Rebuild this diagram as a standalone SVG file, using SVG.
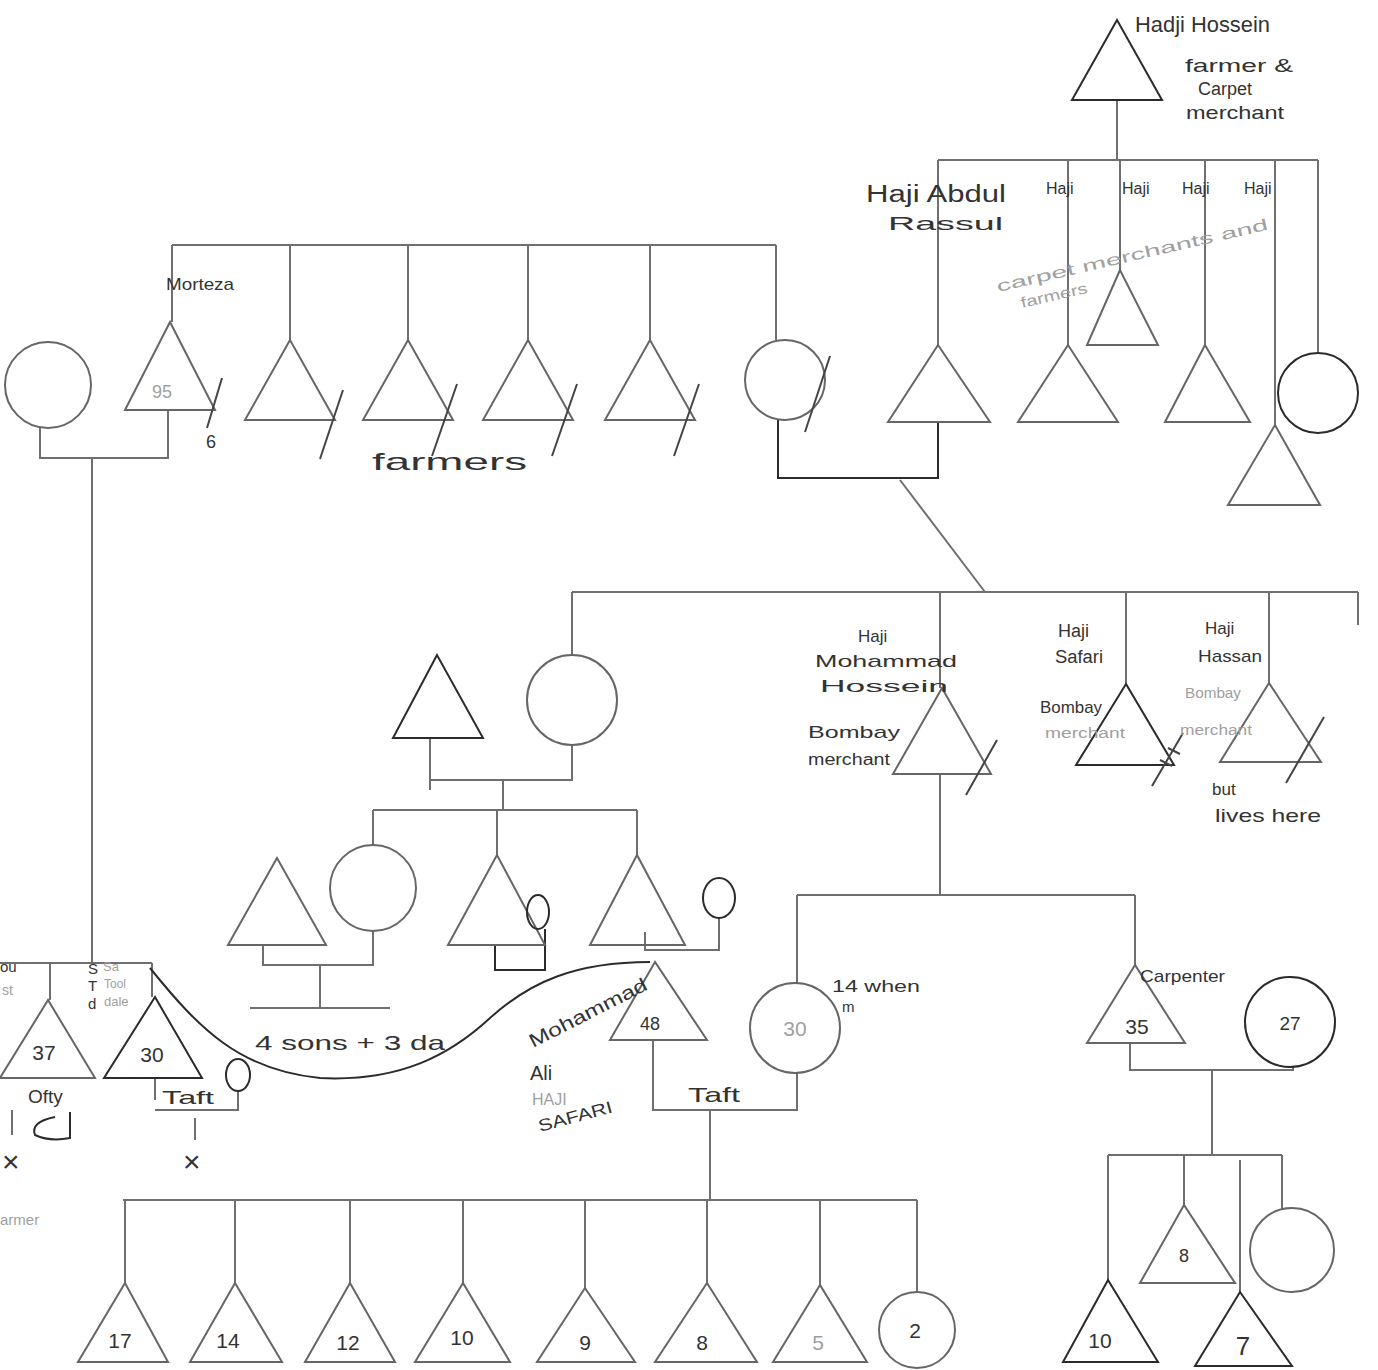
<svg xmlns="http://www.w3.org/2000/svg" width="1378" height="1370" viewBox="0 0 1378 1370" font-size="17">
<style>
.ln{fill:none;stroke:#6f6f6f;stroke-width:2}
.dk{fill:none;stroke:#2b2b2b;stroke-width:2}
.sym{fill:none;stroke:#666;stroke-width:2}
.sd{fill:none;stroke:#2b2b2b;stroke-width:2}
.sl{fill:none;stroke:#444;stroke-width:2}
text{font-family:"Liberation Sans",Arial,sans-serif;fill:#333}
.g{fill:#a0a0a0}
.n{text-anchor:middle}
</style>
<rect width="1378" height="1370" fill="#fff"/>
<g id="connectors">
<path class="ln" d="M1117,100 V160 M938,160 H1318 M938,160 V345 M1068,160 V345 M1120,160 V270 M1205,160 V345 M1275,160 V425 M1318,160 V353"/>
<path class="ln" d="M172,245 H776 M172,245 V322 M290,245 V340 M408,245 V340 M528,245 V340 M650,245 V340 M776,245 V340"/>
<path class="ln" d="M40,428 V458 H168 V410 M92,458 V963"/>
<path class="ln" d="M0,963 H152 M50,963 V1000 M152,963 V997"/>
<path class="dk" d="M778,420 V478 H938 V422"/>
<path class="ln" d="M900,480 L985,592"/>
<path class="ln" d="M572,592 H1358 M572,592 V655 M940,592 V688 M1126,592 V684 M1269,592 V683 M1358,592 V625"/>
<path class="ln" d="M430,738 V790 M430,780 H572 V745 M503,780 V810 M373,810 H637 M373,810 V845 M497,810 V855 M637,810 V855"/>
<path class="ln" d="M263,945 V965 H373 V931 M320,965 V1008 M250,1008 H390"/>
<path class="dk" d="M495,945 V970 H545 V929"/>
<path class="ln" d="M645,932 V950 H719 V918"/>
<path class="ln" d="M940,774 V895 M797,895 H1135 M797,895 V983 M1135,895 V965"/>
<path class="ln" d="M653,1040 V1110 H797 V1073 M710,1110 V1200 M123,1200 H917"/>
<path class="ln" d="M125,1200 V1283 M235,1200 V1283 M350,1200 V1283 M463,1200 V1283 M585,1200 V1288 M707,1200 V1283 M820,1200 V1285 M917,1200 V1292"/>
<path class="ln" d="M1130,1043 V1070 H1293 V1067 M1212,1070 V1155 M1108,1155 H1282 M1108,1155 V1280 M1184,1155 V1205 M1240,1160 V1292 M1282,1155 V1210"/>
<path class="ln" d="M155,1078 V1100 M155,1110 H238 V1091 M195,1118 V1140 M12,1110 V1135"/>
<path class="dk" d="M150,968 C200,1030 240,1070 320,1078 C400,1082 450,1055 490,1018 C530,982 575,962 650,962"/>
</g>
<g id="hadji-hossein"><polygon class="sd" points="1117,20 1072,100 1162,100"/>
<text x="1135" y="32" font-size="22" textLength="135" lengthAdjust="spacingAndGlyphs">Hadji Hossein</text><text x="1185" y="72" font-size="19" textLength="108" lengthAdjust="spacingAndGlyphs">farmer &amp;</text><text x="1198" y="95" font-size="18">Carpet</text><text x="1186" y="119" font-size="19" textLength="98" lengthAdjust="spacingAndGlyphs">merchant</text></g>
<g id="abdul-rassul"><polygon class="sym" points="938,345 888,422 990,422"/><text x="866" y="202" font-size="23" textLength="140" lengthAdjust="spacingAndGlyphs">Haji Abdul</text><text x="888" y="230" font-size="19" textLength="115" lengthAdjust="spacingAndGlyphs">Rassul</text></g>
<g id="haji-2"><polygon class="sym" points="1068,345 1018,422 1118,422"/><text x="1046" y="194" font-size="16">Haji</text></g>
<g id="haji-3"><polygon class="sym" points="1120,270 1087,345 1158,345"/><text x="1122" y="194" font-size="16">Haji</text></g>
<g id="haji-4"><polygon class="sym" points="1205,345 1165,422 1250,422"/><text x="1182" y="194" font-size="16">Haji</text></g>
<g id="haji-5"><polygon class="sym" points="1275,425 1228,505 1320,505"/><text x="1244" y="194" font-size="16">Haji</text></g>
<g id="hh-daughter"><circle class="sd" cx="1318" cy="393" r="40"/></g>
<text class="g" x="998" y="292" font-size="16" transform="rotate(-13 998 292)" textLength="278" lengthAdjust="spacingAndGlyphs">carpet merchants and</text>
<text class="g" x="1022" y="308" font-size="15" transform="rotate(-13 1022 308)" textLength="68" lengthAdjust="spacingAndGlyphs">farmers</text>
<g id="morteza-wife"><circle class="sym" cx="48" cy="385" r="43"/></g>
<g id="morteza"><polygon class="sym" points="170,322 125,410 215,410"/><text x="166" y="290" font-size="17" textLength="68" lengthAdjust="spacingAndGlyphs">Morteza</text><text class="n g" x="162" y="398" font-size="18">95</text>
<path class="sl" d="M207,428 L222,378"/><text x="206" y="448" font-size="18">6</text></g>
<g id="brother-2"><polygon class="sym" points="290,340 245,420 335,420"/><path class="sl" d="M320,459 L343,390"/></g>
<g id="brother-3"><polygon class="sym" points="408,340 363,420 453,420"/><path class="sl" d="M432,456 L457,384"/></g>
<g id="brother-4"><polygon class="sym" points="528,340 483,420 573,420"/><path class="sl" d="M552,456 L577,384"/></g>
<g id="brother-5"><polygon class="sym" points="650,340 605,420 695,420"/><path class="sl" d="M674,456 L699,384"/></g>
<text x="372" y="470" font-size="24" textLength="155" lengthAdjust="spacingAndGlyphs">farmers</text>
<g id="sister"><circle class="sym" cx="785" cy="380" r="40"/><path class="sl" d="M805,432 L830,356"/></g>
<g id="daughter-b"><circle class="sym" cx="572" cy="700" r="45"/></g>
<g id="husband-a"><polygon class="sd" points="437,655 393,738 483,738"/></g>
<g id="haji-mohammad-hossein"><polygon class="sym" points="942,688 893,774 991,774"/><path class="sl" d="M966,795 L997,740"/>
<text x="858" y="642" font-size="17">Haji</text><text x="815" y="667" font-size="17" textLength="142" lengthAdjust="spacingAndGlyphs">Mohammad</text><text x="820" y="692" font-size="17" textLength="128" lengthAdjust="spacingAndGlyphs">Hossein</text><text x="808" y="738" font-size="17" textLength="92" lengthAdjust="spacingAndGlyphs">Bombay</text><text x="808" y="765" font-size="16" textLength="82" lengthAdjust="spacingAndGlyphs">merchant</text></g>
<g id="haji-safari"><polygon class="sd" points="1126,684 1076,765 1174,765"/><path class="sl" d="M1152,786 L1183,733 M1160,760 L1172,766 M1168,748 L1180,754"/>
<text x="1058" y="637" font-size="18">Haji</text><text x="1055" y="663" font-size="18" textLength="48" lengthAdjust="spacingAndGlyphs">Safari</text><text x="1040" y="713" font-size="17" textLength="62" lengthAdjust="spacingAndGlyphs">Bombay</text><text x="1045" y="738" font-size="14" class="g" textLength="80" lengthAdjust="spacingAndGlyphs">merchant</text></g>
<g id="haji-hassan"><polygon class="sym" points="1269,683 1220,762 1321,762"/><path class="sl" d="M1286,783 L1324,717"/>
<text x="1205" y="634" font-size="17">Haji</text><text x="1198" y="662" font-size="17" textLength="64" lengthAdjust="spacingAndGlyphs">Hassan</text><text x="1185" y="698" font-size="15" class="g" textLength="56" lengthAdjust="spacingAndGlyphs">Bombay</text><text x="1180" y="735" font-size="14" class="g" textLength="72" lengthAdjust="spacingAndGlyphs">merchant</text><text x="1212" y="795" font-size="17">but</text><text x="1215" y="822" font-size="19" textLength="106" lengthAdjust="spacingAndGlyphs">lives here</text></g>
<g id="husband-d"><polygon class="sym" points="277,858 228,945 326,945"/></g>
<g id="daughter-c"><circle class="sym" cx="373" cy="888" r="43"/></g>
<text x="255" y="1050" font-size="21" textLength="190" lengthAdjust="spacingAndGlyphs">4 sons + 3 da</text>
<g id="son-e"><polygon class="sym" points="497,855 448,945 545,945"/><ellipse class="sd" cx="538" cy="912" rx="11" ry="17"/></g>
<g id="son-f"><polygon class="sym" points="637,855 590,945 685,945"/><ellipse class="sd" cx="719" cy="898" rx="16" ry="20"/></g>
<g id="tri-37"><polygon class="sym" points="48,1000 0,1078 95,1078"/><text class="n" x="44" y="1060" font-size="21">37</text>
<text x="0" y="972" font-size="15">ou</text><text class="g" x="2" y="995" font-size="14">st</text>
<text x="28" y="1103" font-size="19">Ofty</text><path class="dk" d="M55,1117 Q30,1122 35,1135 Q50,1142 70,1138 V1112"/><text x="2" y="1172" font-size="30">×</text></g>
<g id="tri-30"><polygon class="dk" points="155,997 104,1078 202,1078"/><text class="n" x="152" y="1062" font-size="21">30</text>
<text x="88" y="974" font-size="15">S</text><text class="g" x="103" y="971" font-size="13">Sa</text><text x="88" y="991" font-size="15">T</text><text class="g" x="104" y="988" font-size="12">Tool</text><text x="88" y="1009" font-size="15">d</text><text class="g" x="104" y="1006" font-size="13">dale</text>
<ellipse class="sd" cx="238" cy="1075" rx="12" ry="16"/><text x="162" y="1104" font-size="19" textLength="52" lengthAdjust="spacingAndGlyphs">Taft</text><text x="183" y="1172" font-size="30">×</text>
<text class="g" x="0" y="1225" font-size="15">armer</text></g>
<g id="mohammad-ali"><polygon class="sym" points="655,962 610,1040 707,1040"/><text class="n" x="650" y="1030" font-size="18">48</text>
<text x="533" y="1048" font-size="19" transform="rotate(-27 533 1048)" textLength="130" lengthAdjust="spacingAndGlyphs">Mohammad</text><text x="530" y="1080" font-size="20">Ali</text><text class="g" x="532" y="1105" font-size="16">HAJI</text><text x="540" y="1132" font-size="17" transform="rotate(-15 540 1132)" textLength="76" lengthAdjust="spacingAndGlyphs">SAFARI</text></g>
<g id="wife-30"><circle class="sym" cx="795" cy="1028" r="45"/><text class="n g" x="795" y="1036" font-size="21">30</text><text x="832" y="992" font-size="16" textLength="88" lengthAdjust="spacingAndGlyphs">14 when</text><text x="842" y="1012" font-size="15">m</text></g>
<text x="688" y="1102" font-size="21" textLength="52" lengthAdjust="spacingAndGlyphs">Taft</text>
<g id="carpenter"><polygon class="sym" points="1135,965 1087,1043 1185,1043"/><text class="n" x="1137" y="1034" font-size="21">35</text><text x="1140" y="982" font-size="17" textLength="85" lengthAdjust="spacingAndGlyphs">Carpenter</text></g>
<g id="wife-27"><circle class="sd" cx="1290" cy="1022" r="45"/><text class="n" x="1290" y="1030" font-size="19">27</text></g>
<g id="child-17"><polygon class="sym" points="125,1283 78,1362 168,1362"/><text class="n" x="120" y="1348" font-size="21">17</text></g>
<g id="child-14"><polygon class="sym" points="235,1283 190,1362 282,1362"/><text class="n" x="228" y="1348" font-size="21">14</text></g>
<g id="child-12"><polygon class="sym" points="350,1283 305,1362 395,1362"/><text class="n" x="348" y="1350" font-size="21">12</text></g>
<g id="child-10a"><polygon class="sym" points="463,1283 415,1362 510,1362"/><text class="n" x="462" y="1345" font-size="21">10</text></g>
<g id="child-9"><polygon class="sym" points="585,1288 537,1362 635,1362"/><text class="n" x="585" y="1350" font-size="21">9</text></g>
<g id="child-8a"><polygon class="sym" points="707,1283 655,1362 757,1362"/><text class="n" x="702" y="1350" font-size="21">8</text></g>
<g id="child-5"><polygon class="sym" points="820,1285 773,1362 867,1362"/><text class="n g" x="818" y="1350" font-size="21">5</text></g>
<g id="child-2"><circle class="sym" cx="917" cy="1330" r="38"/><text class="n" x="915" y="1338" font-size="21">2</text></g>
<g id="child-10b"><polygon class="dk" points="1108,1280 1063,1362 1158,1362"/><text class="n" x="1100" y="1348" font-size="21">10</text></g>
<g id="child-8b"><polygon class="sym" points="1184,1205 1140,1283 1235,1283"/><text class="n" x="1184" y="1262" font-size="18">8</text></g>
<g id="child-7"><polygon class="dk" points="1240,1292 1195,1366 1292,1366"/><text class="n" x="1243" y="1355" font-size="26">7</text></g>
<g id="child-f"><circle class="sym" cx="1292" cy="1250" r="42"/></g>
</svg>
